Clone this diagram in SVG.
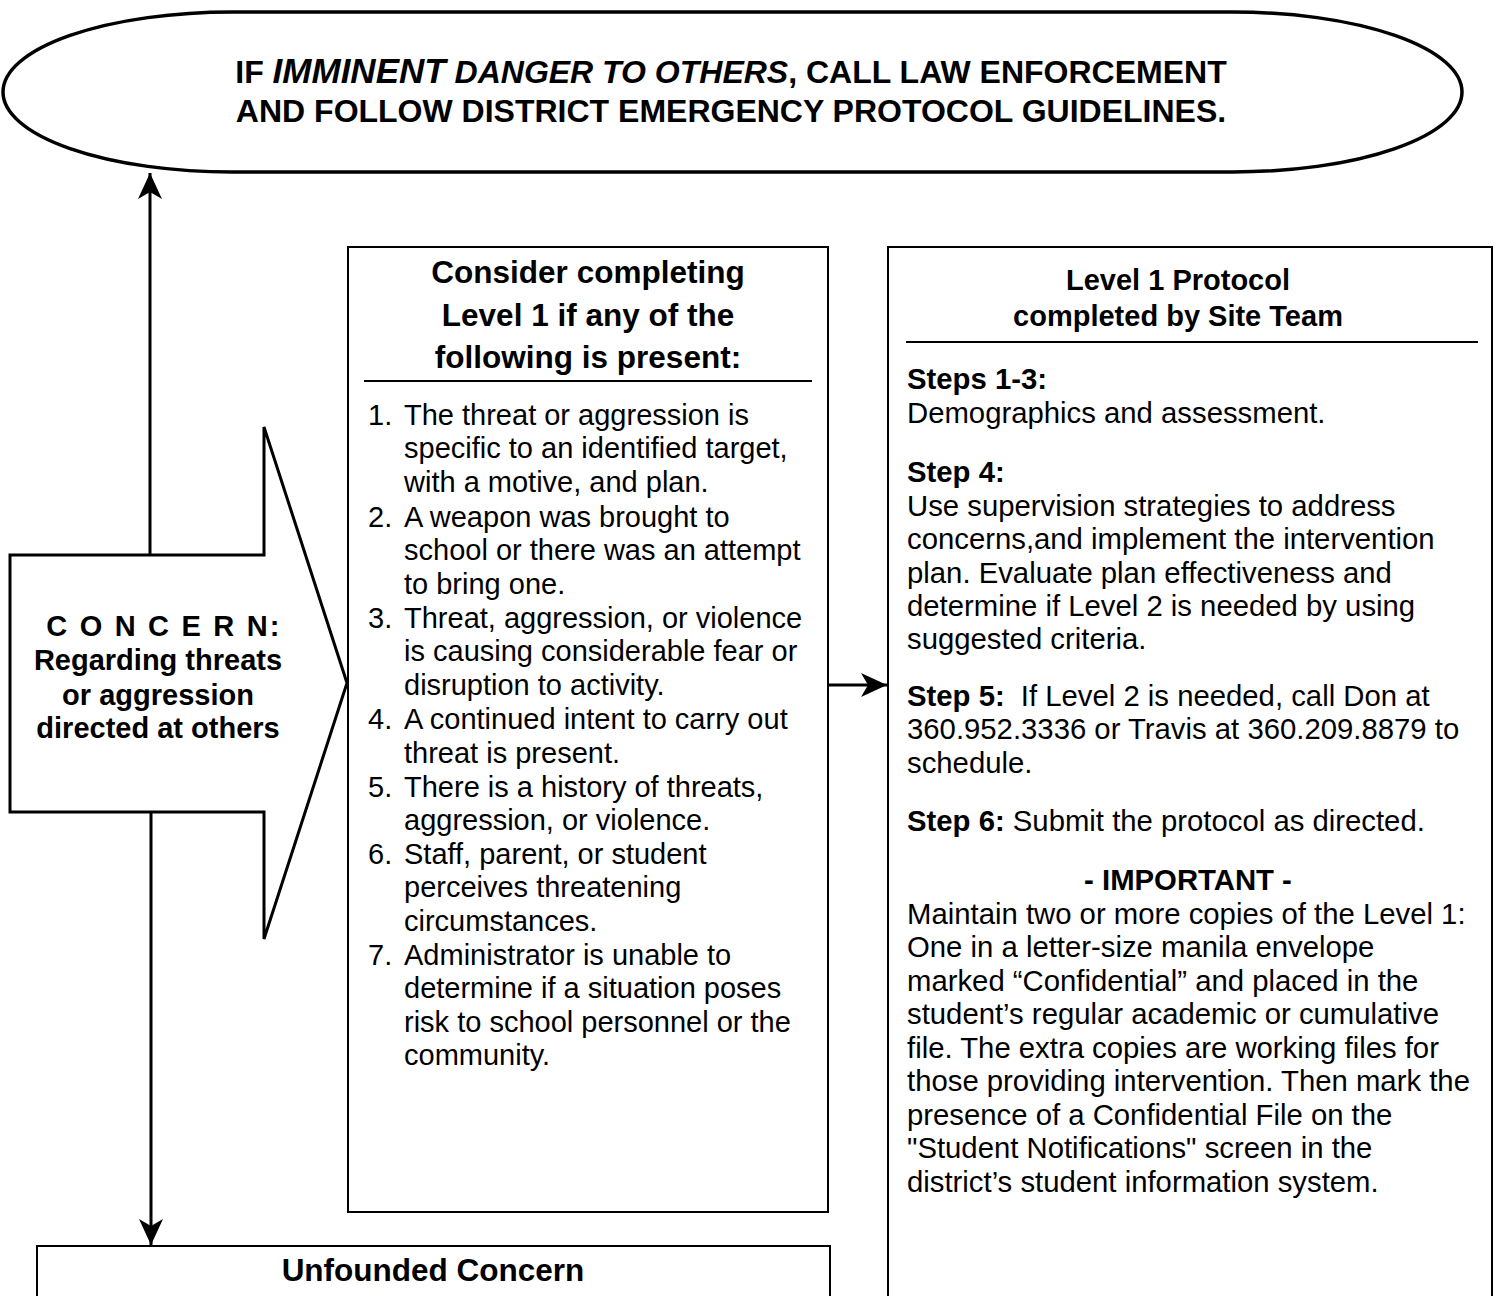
<svg xmlns="http://www.w3.org/2000/svg" width="1500" height="1296" viewBox="0 0 1500 1296">
<style>
text { font-family: "Liberation Sans", Arial, sans-serif; fill: #000; }
.b { font-weight: bold; }
.hd { font-size: 29px; font-weight: bold; text-anchor: middle; }
.hl { font-size: 31.5px; font-weight: bold; text-anchor: middle; }
.li { font-size: 29px; }
.rt { font-size: 29.3px; }
.shape { fill: #fff; stroke: #000; }
.conn { stroke: #000; stroke-width: 3; fill: none; }
</style>
<defs>
<marker id="ah" viewBox="0 0 28 26" refX="27" refY="13" markerWidth="28" markerHeight="26" markerUnits="userSpaceOnUse" orient="auto">
<path d="M27,13 L1,1 L8,13 L1,25 Z" fill="#000"/>
</marker>
</defs>
<rect width="1500" height="1296" fill="#fff"/>

<g id="emergency">
<rect class="shape" x="3" y="12" width="1459" height="160" rx="229" ry="80" stroke-width="3.5"/>
<text x="731" y="83" class="b" font-size="32" text-anchor="middle">IF <tspan font-style="italic" font-size="35">IMMINENT</tspan><tspan font-style="italic"> DANGER TO OTHERS</tspan>, CALL LAW ENFORCEMENT</text>
<text x="731" y="122" class="b" font-size="32" text-anchor="middle">AND FOLLOW DISTRICT EMERGENCY PROTOCOL GUIDELINES.</text>
</g>

<g id="concern">
<polygon class="shape" stroke-width="3" points="10,555 264,555 264,427 347,683 264,939 264,812 10,812"/>
<text x="164" y="636" class="b" font-size="29" text-anchor="middle" letter-spacing="2.2">C O N C E R N:</text>
<text x="158" y="670" class="b" font-size="29" text-anchor="middle">Regarding threats</text>
<text x="158" y="705" class="b" font-size="29" text-anchor="middle">or aggression</text>
<text x="158" y="738" class="b" font-size="29" text-anchor="middle">directed at others</text>
</g>

<g id="criteria">
<rect class="shape" x="348" y="247" width="480" height="965" stroke-width="2"/>
<line x1="364" y1="381" x2="812" y2="381" stroke="#000" stroke-width="2"/>
<text x="588" y="283" class="hl">Consider completing</text>
<text x="588" y="326" class="hl">Level 1 if any of the</text>
<text x="588" y="368" class="hl">following is present:</text>
<text x="368" y="425" class="li">1.</text>
<text x="404" y="425" class="li">The threat or aggression is</text>
<text x="404" y="458" class="li">specific to an identified target,</text>
<text x="404" y="492" class="li">with a motive, and plan.</text>
<text x="368" y="527" class="li">2.</text>
<text x="404" y="527" class="li">A weapon was brought to</text>
<text x="404" y="560" class="li">school or there was an attempt</text>
<text x="404" y="594" class="li">to bring one.</text>
<text x="368" y="628" class="li">3.</text>
<text x="404" y="628" class="li">Threat, aggression, or violence</text>
<text x="404" y="661" class="li">is causing considerable fear or</text>
<text x="404" y="695" class="li">disruption to activity.</text>
<text x="368" y="729" class="li">4.</text>
<text x="404" y="729" class="li">A continued intent to carry out</text>
<text x="404" y="763" class="li">threat is present.</text>
<text x="368" y="797" class="li">5.</text>
<text x="404" y="797" class="li">There is a history of threats,</text>
<text x="404" y="830" class="li">aggression, or violence.</text>
<text x="368" y="864" class="li">6.</text>
<text x="404" y="864" class="li">Staff, parent, or student</text>
<text x="404" y="897" class="li">perceives threatening</text>
<text x="404" y="931" class="li">circumstances.</text>
<text x="368" y="965" class="li">7.</text>
<text x="404" y="965" class="li">Administrator is unable to</text>
<text x="404" y="998" class="li">determine if a situation poses</text>
<text x="404" y="1032" class="li">risk to school personnel or the</text>
<text x="404" y="1065" class="li">community.</text>
</g>

<g id="protocol">
<rect class="shape" x="888" y="247" width="604" height="1070" stroke-width="2"/>
<line x1="906" y1="342" x2="1478" y2="342" stroke="#000" stroke-width="2"/>
<text x="1178" y="290" class="hd">Level 1 Protocol</text>
<text x="1178" y="326" class="hd">completed by Site Team</text>
<text x="907" y="389" class="rt b">Steps 1-3:</text>
<text x="907" y="423" class="rt">Demographics and assessment.</text>
<text x="907" y="482" class="rt b">Step 4:</text>
<text x="907" y="516" class="rt">Use supervision strategies to address</text>
<text x="907" y="549" class="rt">concerns,and implement the intervention</text>
<text x="907" y="583" class="rt">plan. Evaluate plan effectiveness and</text>
<text x="907" y="616" class="rt">determine if Level 2 is needed by using</text>
<text x="907" y="649" class="rt">suggested criteria.</text>
<text x="907" y="706" class="rt"><tspan class="b">Step 5:</tspan><tspan dx="8"> If Level 2 is needed, call Don at</tspan></text>
<text x="907" y="739" class="rt">360.952.3336 or Travis at 360.209.8879 to</text>
<text x="907" y="773" class="rt">schedule.</text>
<text x="907" y="831" class="rt"><tspan class="b">Step 6:</tspan> Submit the protocol as directed.</text>
<text x="1188" y="890" class="rt b" text-anchor="middle">- IMPORTANT -</text>
<text x="907" y="924" class="rt">Maintain two or more copies of the Level 1:</text>
<text x="907" y="957" class="rt">One in a letter-size manila envelope</text>
<text x="907" y="991" class="rt">marked “Confidential” and placed in the</text>
<text x="907" y="1024" class="rt">student’s regular academic or cumulative</text>
<text x="907" y="1058" class="rt">file. The extra copies are working files for</text>
<text x="907" y="1091" class="rt">those providing intervention. Then mark the</text>
<text x="907" y="1125" class="rt">presence of a Confidential File on the</text>
<text x="907" y="1158" class="rt">"Student Notifications" screen in the</text>
<text x="907" y="1192" class="rt">district’s student information system.</text>
</g>

<g id="unfounded">
<rect class="shape" x="37" y="1246" width="793" height="100" stroke-width="2"/>
<text x="433" y="1281" class="hl">Unfounded Concern</text>
</g>

<g id="connectors">
<line class="conn" x1="150" y1="555" x2="150" y2="173" marker-end="url(#ah)"/>
<line class="conn" x1="151" y1="813" x2="151" y2="1245" marker-end="url(#ah)"/>
<line class="conn" x1="828" y1="685" x2="887" y2="685" marker-end="url(#ah)"/>
</g>
</svg>
